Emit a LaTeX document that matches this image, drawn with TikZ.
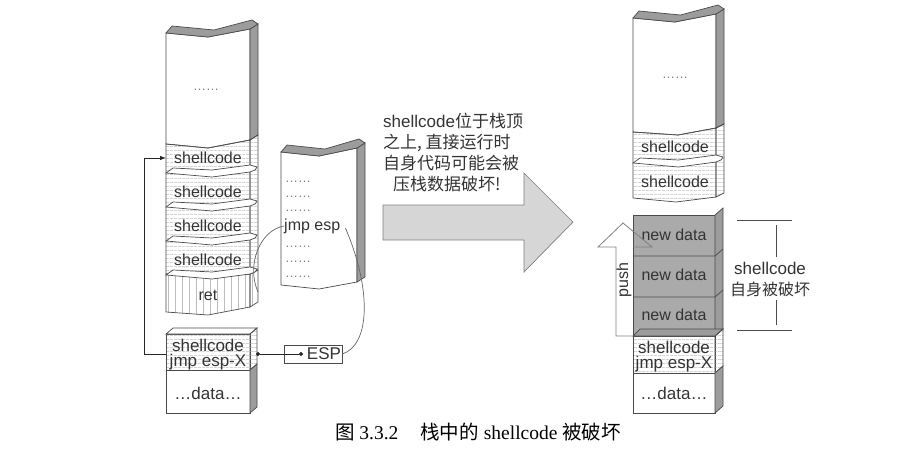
\documentclass[tikz,border=0pt]{standalone}
\usepackage{fontspec}
\setmainfont{Liberation Serif}
\setsansfont{Liberation Sans}
\newfontfamily\cjk{Noto Sans CJK SC}
\usepackage{tikz}
\usetikzlibrary{arrows.meta,patterns.meta}
\definecolor{edgegray}{HTML}{4A4A4A}
\definecolor{sidegray}{HTML}{9C9C9C}
\definecolor{hatchgray}{HTML}{BDBDBD}
\definecolor{newgray}{HTML}{AAAAAA}
\definecolor{arrowgray}{HTML}{D6D6D6}
\definecolor{txtgray}{HTML}{333333}
\tikzstyle{stackface}=[draw=edgegray, fill=white, line width=0.7pt]
\tikzstyle{stackside}=[draw=edgegray, fill=sidegray, line width=0.7pt]
\tikzstyle{newblock}=[draw=edgegray, fill=newgray, line width=0.7pt]
\tikzstyle{hatch}=[draw=edgegray, line width=0.7pt, pattern={Lines[angle=0,distance=4pt,line width=0.5pt]}, pattern color=hatchgray]
\tikzstyle{vhatch}=[draw=edgegray, line width=0.7pt, pattern={Lines[angle=90,distance=7pt,line width=0.5pt]}, pattern color=hatchgray]
\tikzstyle{lbl}=[font=\sffamily\fontsize{16}{16}\selectfont, text=txtgray, inner sep=0pt]
\tikzstyle{boxlbl}=[font=\sffamily\fontsize{17}{17}\selectfont, text=txtgray, inner sep=0pt]
\tikzstyle{biglbl}=[font=\sffamily\fontsize{17}{17}\selectfont, text=txtgray, inner sep=0pt]
\tikzstyle{dotrow}=[font=\sffamily\fontsize{13}{13}\selectfont, text=gray, inner sep=0pt]
\tikzstyle{conn}=[draw=black!85, line width=0.8pt]
\tikzstyle{curve}=[draw=black!60, line width=0.7pt]
% torn top of a stack: left x, right x, front y
\newcommand{\tornCap}[3]{
	\draw[stackside] (#1,#3) -- ({(#1+#2)/2},#3+4) -- (#2,#3-4) -- (#2+8,#3-9) -- (#2+2,#3-13) -- ({(#1+#2)/2+6},#3-3) -- (#1+6,#3-7) -- cycle;
}
% torn gap between two stack pieces
\newcommand{\tornBand}[3]{
	\draw[stackface] (#1,#3+5) -- (#1+7,#3) -- ({(#1+#2)/2+4},#3+2) -- (#2,#3-3) -- (#2+7,#3-1) -- (#2+5,#3+2) -- (#2,#3+4) -- ({(#1+#2)/2+4},#3+9) -- cycle;
}

\begin{document}
\begin{tikzpicture}[x=1pt,y=-1pt]
	\useasboundingbox (0,0) rectangle (912,458);
	% left stack
	\draw[stackface] (166,33) -- (208,37) -- (250,29) -- (250,140) -- (208,148) -- (166,144) -- cycle;
	\draw[stackside] (250,29) -- (258,24) -- (258,135) -- (250,140) -- cycle;
	\tornCap{166}{250}{33}
	\draw[hatch] (166,144) -- (208,148) -- (250,140) -- (250,274) -- (166,274) -- cycle;
	\draw[hatch] (250,140) -- (258,135) -- (258,270) -- (250,274) -- cycle;
	\draw[vhatch] (166,274) -- (250,274) -- (250,307) -- (208,315) -- (166,312) -- cycle;
	\draw[vhatch] (250,274) -- (258,270) -- (258,302) -- (250,307) -- cycle;
	\tornBand{166}{250}{168}
	\tornBand{166}{250}{202}
	\tornBand{166}{250}{236}
	\tornBand{166}{250}{270}
	\node[dotrow] (ldots) at (206,90) {……};
	\node[lbl] (sc1) at (208,158) {shellcode};
	\node[lbl] (sc2) at (208,192) {shellcode};
	\node[lbl] (sc3) at (208,226) {shellcode};
	\node[lbl] (sc4) at (208,260) {shellcode};
	\node[lbl] (ret) at (208,295) {ret};

	% lower left box
	\draw[hatch] (166,334) rectangle (250,370);
	\draw[stackface] (166,370) rectangle (250,413);
	\draw[stackface] (166,334) -- (173,328) -- (257,328) -- (250,334) -- cycle;
	\draw[hatch] (250,334) -- (257,328) -- (257,364) -- (250,370) -- cycle;
	\draw[stackside] (250,370) -- (257,364) -- (257,407) -- (250,413) -- cycle;
	\node[boxlbl] (lsc) at (208,345) {shellcode};
	\node[boxlbl] (ljx) at (208,362) {jmp esp-X};
	\node[boxlbl] (ldata) at (208,393) {…data…};

	% middle stack
	\draw[stackface] (281,152) -- (319,156) -- (357,148) -- (357,282) -- (319,289) -- (281,285) -- cycle;
	\draw[stackside] (357,148) -- (365,143) -- (365,277) -- (357,282) -- cycle;
	\tornCap{281}{357}{152}
	\node[dotrow, anchor=west] (m1) at (285,182) {……};
	\node[dotrow, anchor=west] (m2) at (285,197) {……};
	\node[dotrow, anchor=west] (m3) at (285,211) {……};
	\node[lbl, anchor=west] (jmp) at (284,226) {jmp esp};
	\node[dotrow, anchor=west] (m4) at (285,247) {……};
	\node[dotrow, anchor=west] (m5) at (285,262) {……};
	\node[dotrow, anchor=west] (m6) at (285,277) {……};

	% ESP box
	\node[draw=edgegray, line width=0.7pt, minimum width=58pt, minimum height=18pt, inner sep=0pt] (espbox) at (313,354) {};
	\node[boxlbl] (esp) at (324,354) {ESP};
	\coordinate (espdot) at (303,354);
	\coordinate (sc1l) at (166,158);
	\coordinate (lboxl) at (166,354);
	\coordinate (lboxr) at (256,354);
	\coordinate (retr) at (258,292);

	% connectors
	\draw[conn,-{Latex[length=6pt,width=4.5pt]}] (lboxl) -- ++(-22,0) |- (sc1l);
	\draw[conn,{Circle[length=4pt]}-{Circle[length=4pt]}] (espdot) -- (lboxr);
	\draw[curve] (espbox.east) .. controls (370,345) and (372,290) .. ([xshift=5pt,yshift=-2pt]jmp.east);
	\draw[curve] (jmp.west) .. controls (260,230) and (246,265) .. (retr);

	% big arrow
	\draw[draw=gray, fill=arrowgray, line width=0.7pt] (383,205) -- (524,205) -- (524,173) -- (573,222) -- (524,272) -- (524,240) -- (383,240) -- cycle;
	\node[biglbl, anchor=north west, align=left, font=\cjk\fontsize{17}{21}\selectfont] (note) at (383,113) {{\sffamily shellcode}位于栈顶\\之上, 直接运行时\\自身代码可能会被\\\hspace{10pt}压栈数据破坏!};

	% right upper stack
	\draw[stackface] (633,18) -- (675,22) -- (716,14) -- (716,128) -- (678,135) -- (633,132) -- cycle;
	\draw[stackside] (716,14) -- (724,9) -- (724,124) -- (716,128) -- cycle;
	\tornCap{633}{716}{18}
	\draw[hatch] (633,132) -- (678,135) -- (716,128) -- (716,197) -- (676,202) -- (633,198) -- cycle;
	\draw[hatch] (716,128) -- (724,124) -- (724,193) -- (716,197) -- cycle;
	\tornBand{633}{716}{158}
	\node[dotrow] (rdots) at (675,78) {……};
	\node[lbl] (rsc1) at (675,147) {shellcode};
	\node[lbl] (rsc2) at (675,182) {shellcode};

	% right lower stack
	\draw[newblock] (633,215) rectangle (715,336);
	\draw[stackside] (715,215) -- (723,208) -- (723,329) -- (715,336) -- cycle;
	\draw[edgegray, line width=0.7pt] (633,256) -- (715,256) -- (723,249);
	\draw[edgegray, line width=0.7pt] (633,297) -- (715,297) -- (723,290);
	\draw[hatch] (633,336) rectangle (715,373);
	\draw[stackface] (633,373) rectangle (715,413);
	\draw[stackside] (633,336) -- (640,329) -- (723,329) -- (715,336) -- cycle;
	\draw[hatch] (715,336) -- (723,329) -- (723,366) -- (715,373) -- cycle;
	\draw[stackside] (715,373) -- (723,366) -- (723,406) -- (715,413) -- cycle;
	\node[lbl] (nd1) at (674,235) {new data};
	\node[lbl] (nd2) at (674,275) {new data};
	\node[lbl] (nd3) at (674,315) {new data};
	\node[boxlbl] (rsc) at (674,347) {shellcode};
	\node[boxlbl] (rjx) at (674,364) {jmp esp-X};
	\node[boxlbl] (rdata) at (674,393) {…data…};

	% push arrow
	\draw[draw=gray, line width=0.8pt] (633,336) -- (616,336) -- (616,247) -- (598,247) -- (623,223) -- (652,247) -- (633,247);
	\node[lbl, rotate=90] (push) at (624,280) {push};

	% damaged range
	\draw[draw=black!70, line width=0.7pt] (737,220) -- (792,220);
	\draw[draw=black!70, line width=0.7pt] (737,330) -- (792,330);
	\draw[draw=black!70, line width=0.7pt] (776,225) -- (776,257);
	\draw[draw=black!70, line width=0.7pt] (776,300) -- (776,325);
	\node[biglbl] (dsc) at (770,268) {shellcode};
	\node[biglbl, font=\cjk\fontsize{16}{16}\selectfont] (dmg) at (770,289) {自身被破坏};

	% caption
	\node[inner sep=0pt, font=\fontsize{19.5}{19.5}\selectfont] (cap) at (478,432) {{\cjk 图} 3.3.2\hspace{22pt}{\cjk 栈中的} shellcode {\cjk 被破坏}};
\end{tikzpicture}
\end{document}
